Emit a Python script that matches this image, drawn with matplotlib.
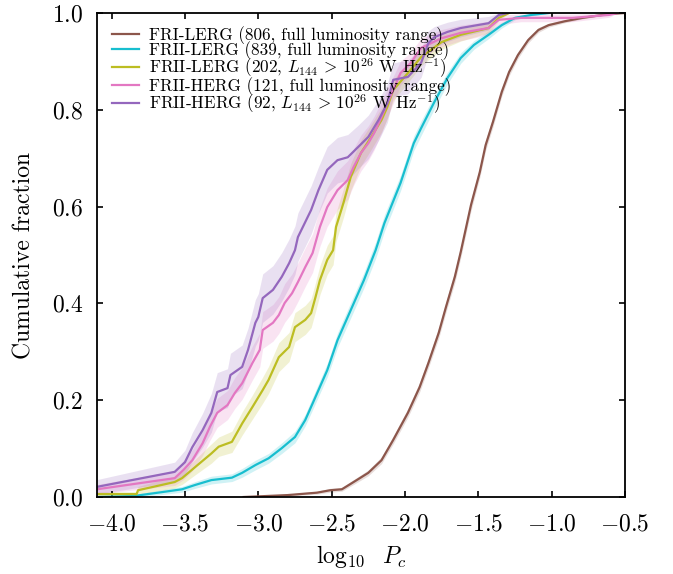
import numpy as np
import matplotlib
matplotlib.use("Agg")
import matplotlib.pyplot as plt

plt.rcParams['font.family'] = 'serif'
plt.rcParams['font.serif'] = ['cmr10', 'DejaVu Serif']
plt.rcParams['mathtext.fontset'] = 'cm'
plt.rcParams['axes.formatter.use_mathtext'] = True

# FRI-LERG (806)
fri_lerg_x = [-3.1, -2.8, -2.6, -2.51, -2.43, -2.35, -2.25, -2.16, -2.08,
              -1.98, -1.90, -1.84, -1.77, -1.72, -1.66, -1.62, -1.55, -1.49, -1.45,
              -1.40, -1.34, -1.29, -1.23, -1.16, -1.09, -1.02, -0.91, -0.79, -0.61, -0.5]
fri_lerg_y = [0.0, 0.004, 0.009, 0.014, 0.016, 0.031, 0.05, 0.076, 0.118,
              0.174, 0.227, 0.277, 0.339, 0.393, 0.455, 0.506, 0.603, 0.671, 0.727,
              0.775, 0.837, 0.878, 0.913, 0.944, 0.965, 0.975, 0.983, 0.99, 0.998, 1.0]
fri_lerg_err = [0.0, 0.002, 0.003, 0.004, 0.004, 0.005, 0.006, 0.007, 0.008,
                0.009, 0.01, 0.01, 0.011, 0.011, 0.012, 0.012, 0.012, 0.011, 0.011,
                0.01, 0.009, 0.008, 0.007, 0.006, 0.005, 0.004, 0.003, 0.002, 0.001, 0.0]

# FRII-LERG (839)
frii_lerg_x = [-4.1, -3.85, -3.66, -3.52, -3.43, -3.32, -3.18, -3.11, -3.02, -2.93,
               -2.84, -2.75, -2.68, -2.62, -2.53, -2.46, -2.37, -2.28, -2.20, -2.14,
               -2.03, -1.94, -1.89, -1.80, -1.71, -1.62, -1.53, -1.43, -1.34, -1.25,
               -1.14, -1.02]
frii_lerg_y = [0.0, 0.002, 0.01, 0.016, 0.025, 0.035, 0.04, 0.05, 0.066, 0.08,
               0.101, 0.124, 0.159, 0.2, 0.262, 0.324, 0.386, 0.448, 0.51, 0.566,
               0.649, 0.731, 0.762, 0.816, 0.866, 0.907, 0.934, 0.955, 0.975, 0.99,
               0.996, 1.0]
frii_lerg_err = [0.002, 0.003, 0.005, 0.006, 0.007, 0.008, 0.008, 0.009, 0.01, 0.01,
                 0.011, 0.012, 0.012, 0.013, 0.014, 0.015, 0.016, 0.016, 0.017, 0.017,
                 0.016, 0.015, 0.015, 0.014, 0.012, 0.011, 0.009, 0.008, 0.006, 0.004,
                 0.002, 0.0]

# FRII-LERG (202, high luminosity)
frii_lerg_hi_x = [-4.1, -3.83, -3.82, -3.57, -3.52, -3.43, -3.32, -3.27, -3.18, -3.11,
                  -3.04, -2.97, -2.93, -2.86, -2.79, -2.75, -2.68, -2.64, -2.61, -2.58,
                  -2.53, -2.49, -2.47, -2.42, -2.37, -2.30, -2.23, -2.16, -2.12, -2.08,
                  -1.98, -1.89, -1.75, -1.62, -1.43, -1.36, -1.29]
frii_lerg_hi_y = [0.006, 0.006, 0.014, 0.031, 0.039, 0.062, 0.09, 0.104, 0.114, 0.152,
                  0.186, 0.221, 0.242, 0.289, 0.31, 0.351, 0.366, 0.38, 0.413, 0.448,
                  0.49, 0.51, 0.558, 0.607, 0.661, 0.711, 0.744, 0.779, 0.806, 0.841,
                  0.876, 0.909, 0.94, 0.955, 0.969, 0.99, 1.0]
frii_lerg_hi_err = [0.005, 0.005, 0.008, 0.012, 0.013, 0.016, 0.02, 0.02, 0.022, 0.024,
                    0.025, 0.027, 0.028, 0.03, 0.03, 0.03, 0.03, 0.03, 0.03, 0.03,
                    0.03, 0.03, 0.03, 0.03, 0.028, 0.027, 0.026, 0.025, 0.024, 0.022,
                    0.02, 0.018, 0.015, 0.013, 0.01, 0.006, 0.0]

# FRII-HERG (121)
frii_herg_x = [-4.1, -3.57, -3.51, -3.45, -3.38, -3.33, -3.28, -3.21, -3.16, -3.11,
               -3.04, -2.99, -2.97, -2.90, -2.86, -2.82, -2.77, -2.73, -2.68, -2.63,
               -2.58, -2.53, -2.46, -2.39, -2.35, -2.30, -2.25, -2.21, -2.16, -2.12,
               -2.08, -2.03, -1.96, -1.89, -1.75, -1.62, -1.43, -1.36, -1.21, -0.86,
               -0.61, -0.55]
frii_herg_y = [0.016, 0.039, 0.056, 0.076, 0.111, 0.145, 0.174, 0.19, 0.215, 0.235,
               0.277, 0.304, 0.345, 0.36, 0.376, 0.401, 0.421, 0.444, 0.475, 0.504,
               0.558, 0.599, 0.634, 0.655, 0.682, 0.711, 0.731, 0.752, 0.785, 0.814,
               0.841, 0.876, 0.897, 0.928, 0.948, 0.959, 0.969, 0.986, 0.99, 0.99,
               0.996, 1.0]
frii_herg_err = [0.01, 0.015, 0.02, 0.022, 0.025, 0.028, 0.03, 0.03, 0.032, 0.033,
                 0.035, 0.035, 0.038, 0.038, 0.038, 0.04, 0.04, 0.04, 0.04, 0.04,
                 0.04, 0.04, 0.04, 0.04, 0.038, 0.037, 0.036, 0.035, 0.033, 0.03,
                 0.028, 0.025, 0.022, 0.02, 0.018, 0.016, 0.014, 0.01, 0.008, 0.008,
                 0.005, 0.0]

# FRII-HERG (92, high luminosity)
frii_herg_hi_x = [-4.1, -3.57, -3.50, -3.45, -3.38, -3.32, -3.28, -3.21, -3.19, -3.11,
                  -3.07, -3.02, -3.00, -2.97, -2.90, -2.84, -2.79, -2.75, -2.73, -2.64,
                  -2.59, -2.53, -2.46, -2.39, -2.32, -2.25, -2.18, -2.12, -2.08, -1.98,
                  -1.89, -1.84, -1.80, -1.71, -1.62, -1.43, -1.36, -1.30]
frii_herg_hi_y = [0.021, 0.052, 0.072, 0.103, 0.138, 0.174, 0.217, 0.225, 0.252, 0.269,
                  0.304, 0.36, 0.372, 0.411, 0.428, 0.455, 0.483, 0.51, 0.537, 0.593,
                  0.634, 0.676, 0.696, 0.702, 0.723, 0.744, 0.779, 0.814, 0.862, 0.868,
                  0.897, 0.938, 0.95, 0.961, 0.969, 0.979, 0.996, 1.0]
frii_herg_hi_err = [0.015, 0.02, 0.025, 0.03, 0.035, 0.04, 0.04, 0.04, 0.045, 0.045,
                    0.045, 0.048, 0.048, 0.05, 0.05, 0.05, 0.05, 0.05, 0.05, 0.05,
                    0.048, 0.048, 0.047, 0.047, 0.045, 0.045, 0.042, 0.04, 0.035, 0.035,
                    0.03, 0.025, 0.022, 0.02, 0.018, 0.014, 0.006, 0.0]

series = [
    (fri_lerg_x, fri_lerg_y, fri_lerg_err, 'tab:brown',
     'FRI-LERG (806, full luminosity range)'),
    (frii_lerg_x, frii_lerg_y, frii_lerg_err, 'tab:cyan',
     'FRII-LERG (839, full luminosity range)'),
    (frii_lerg_hi_x, frii_lerg_hi_y, frii_lerg_hi_err, 'tab:olive',
     r'FRII-LERG (202, $L_{144}\,>\,10^{26}$ W Hz$^{-1}$)'),
    (frii_herg_x, frii_herg_y, frii_herg_err, 'tab:pink',
     'FRII-HERG (121, full luminosity range)'),
    (frii_herg_hi_x, frii_herg_hi_y, frii_herg_hi_err, 'tab:purple',
     r'FRII-HERG (92, $L_{144}\,>\,10^{26}$ W Hz$^{-1}$)'),
]

fig = plt.figure(figsize=(6.73, 5.74), dpi=100)
ax = fig.add_axes([0.1441, 0.1341, 0.7845, 0.8432])

for x, y, err, col, lab in series:
    x = np.array(x)
    y = np.array(y)
    err = np.array(err)
    ax.fill_between(x, np.clip(y - err, 0, 1), np.clip(y + err, 0, 1),
                    color=col, alpha=0.2, lw=0)
    ax.plot(x, y, color=col, lw=1.6, label=lab)

ax.set_xlim(-4.1, -0.5)
ax.set_ylim(0, 1)
ax.set_xticks(np.arange(-4.0, -0.49, 0.5))
ax.set_yticks(np.arange(0, 1.01, 0.2))
ax.tick_params(direction='in', top=True, right=True, length=4, width=1.2,
               labelsize=17)
ax.tick_params(axis='x', pad=12)
ax.tick_params(axis='y', pad=10)
for s in ax.spines.values():
    s.set_linewidth(1.3)
ax.set_xlabel(r'$\log_{10}\ \ P_c$', fontsize=17)
ax.set_ylabel('Cumulative fraction', fontsize=17)
ax.xaxis.set_label_coords(0.5, -0.095)
ax.yaxis.set_label_coords(-0.117, 0.5)

ax.legend(loc='upper left', frameon=False, fontsize=12.3, handlelength=1.6,
          handletextpad=0.6, labelspacing=-0.2, borderaxespad=0.45,
          borderpad=0.42, bbox_to_anchor=(0.0, 1.004))

fig.savefig('out.png', dpi=100)
